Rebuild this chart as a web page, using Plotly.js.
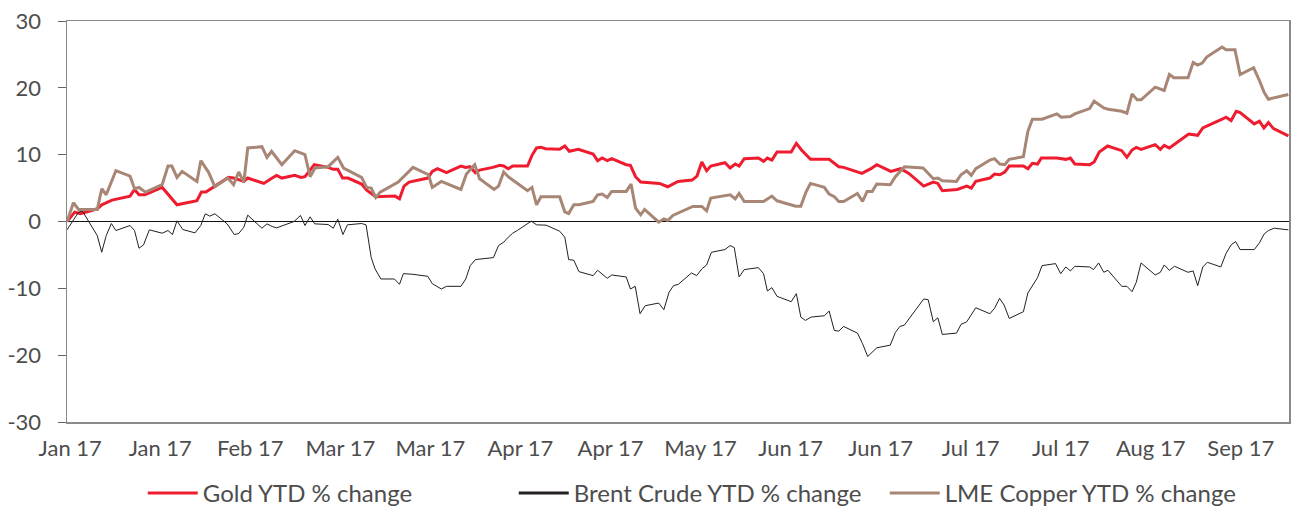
<!DOCTYPE html>
<html>
<head>
<meta charset="utf-8">
<script src="https://cdn.plot.ly/plotly-3.0.1.min.js"></script>
<style>
html,body{margin:0;padding:0;background:#fff;}
#chart{width:1292px;height:506px;}
</style>
</head>
<body>
<div id="chart"></div>
<script>
// x = trading-day index since start of 2017, y = YTD % change
const goldDay = [0,1.2,2.1,4.7,5.4,7.0,9.8,10.5,11.2,12.1,14.8,17.1,20.2,20.9,21.6,22.8,25.1,25.9,27.5,28.1,30.6,31.9,32.6,33.4,35.4,36.4,37.0,38.45,40.6,41.4,42.1,42.85,43.7,45.8,46.6,48.0,51.0,51.7,52.4,53.2,56.1,56.8,57.6,59.0,61.25,62.0,62.65,63.5,64.15,66.2,67.3,67.9,68.6,69.3,71.6,72.3,73.0,73.7,74.4,76.6,77.4,78.1,79.5,81.8,82.5,83.2,84.0,84.7,86.95,87.6,88.4,89.2,91.4,92.1,93.4,94.2,95.0,97.2,97.95,98.7,99.45,100.1,102.3,103.1,103.9,104.5,105.3,107.5,108.3,108.9,109.6,110.4,112.6,113.4,114.2,115.6,118.5,120.0,120.75,123.6,125.0,125.9,128.1,129.6,130.9,133.2,134.7,135.4,136.1,138.4,139.9,140.6,141.3,143.5,144.2,145.05,145.8,146.5,148.7,149.4,150.1,150.9,151.5,153.9,155.3,156.0,156.7,159.0,159.7,160.5,161.8,164.0,164.8,165.6,166.25,167.0,169.2,170.0,170.6,171.4,174.4,175.8,176.6,179.6,180.2,181.0,181.8,182.4,184.6,185.4,186.1,186.8,187.6,189.9];
const goldPct = [0,1.4,1.15,1.9,2.5,3.2,3.8,4.8,4.0,4.0,5.1,2.5,3.1,4.4,4.4,5.2,6.6,6.5,6.0,6.5,5.7,6.5,6.9,6.5,6.9,6.6,6.7,8.5,8.1,7.8,7.8,6.5,6.5,5.6,4.7,3.7,3.8,3.4,5.3,5.9,6.5,7.5,7.9,7.3,8.3,8.1,8.2,7.3,7.7,8.1,8.4,8.3,7.9,8.3,8.3,9.9,11.0,11.1,10.9,10.8,11.3,10.5,10.8,10.1,9.1,9.5,9.1,9.4,8.5,8.4,6.7,5.9,5.8,5.7,5.2,5.6,6.0,6.2,6.8,8.9,7.6,8.3,8.8,8.0,8.6,8.3,9.4,9.5,9.0,9.5,9.2,10.4,10.4,11.7,10.7,9.3,9.3,8.2,8.1,7.2,7.9,8.5,7.5,7.9,7.2,5.3,5.9,5.7,4.6,4.8,5.3,5.0,6.0,6.5,7.1,7.0,7.4,8.3,8.3,7.9,8.7,8.6,9.5,9.5,9.3,9.5,8.6,8.5,8.9,10.4,11.3,10.6,9.6,10.7,11.1,10.8,11.5,10.8,11.4,11.0,13.1,12.9,14.0,15.3,15.6,15.1,16.5,16.3,14.6,15.0,14.0,14.8,13.9,12.8];

const brentDay = [0,1.8,2.4,4.7,5.4,6.1,6.9,7.6,9.8,10.5,11.2,11.9,12.8,14.8,15.7,16.4,17.1,18.0,19.9,20.8,21.5,22.2,23.0,24.9,26.0,26.7,27.5,28.1,30.3,31.1,31.9,32.6,35.3,36.3,37.0,37.8,38.5,40.6,41.4,42.1,42.9,43.6,45.8,46.5,47.3,47.9,48.8,50.9,51.7,52.3,53.8,56.1,56.8,58.2,59.0,61.25,62.0,62.7,63.5,66.3,67.1,67.9,68.6,69.3,70.0,72.2,73.0,74.5,76.6,77.4,78.0,78.8,79.6,81.8,82.5,84.0,84.7,86.95,87.6,88.35,89.1,89.9,92.0,92.8,93.6,94.3,95.05,97.1,97.9,98.7,99.45,100.2,102.3,103.1,103.75,104.5,105.3,107.5,108.3,108.9,109.6,110.4,112.6,113.4,114.1,114.8,115.7,117.75,118.5,119.3,120.0,120.75,122.9,123.7,124.5,125.2,125.9,128.0,128.8,129.5,130.2,133.2,133.9,134.7,135.4,136.1,138.3,139.0,139.9,141.3,143.5,144.2,145.0,145.7,146.5,148.7,149.4,150.9,151.6,153.7,154.5,155.3,156.0,156.7,159.0,159.6,160.4,161.2,161.85,164.0,164.8,165.6,166.25,167.0,169.2,170.0,170.6,171.4,172.2,174.3,175.1,175.8,176.6,177.3,179.4,180.2,181.0,181.7,182.4,184.6,185.4,186.15,186.8,187.7,189.9];
const brentPct = [-1.25,1.4,1.55,-2.1,-4.6,-2.1,-0.3,-1.35,-0.6,-1.35,-4.0,-3.5,-1.25,-1.75,-1.35,-1.95,0.1,-1.2,-1.7,-0.6,1.15,0.8,1.15,-0.35,-1.95,-1.8,-0.85,0.95,-1.0,-0.35,-0.75,-0.95,0.0,0.9,-0.6,0.7,-0.35,-0.45,-1.0,0.35,-1.95,-0.5,-0.3,-0.5,-5.4,-7.1,-8.6,-8.6,-9.4,-7.8,-7.9,-8.2,-9.3,-10.1,-9.7,-9.7,-8.6,-6.6,-5.7,-5.4,-3.6,-3.1,-2.35,-1.75,-1.35,0.05,-0.5,-0.55,-1.45,-2.35,-5.7,-5.8,-7.5,-8.1,-7.3,-8.5,-8.0,-8.3,-10.1,-9.7,-13.8,-12.6,-12.2,-13.2,-10.6,-9.6,-9.4,-7.7,-8.1,-7.1,-6.5,-4.6,-4.2,-3.6,-3.9,-8.3,-7.2,-6.9,-7.8,-10.4,-9.9,-11.2,-12.0,-10.8,-14.3,-14.8,-14.3,-14.1,-13.4,-16.3,-16.4,-15.7,-16.7,-18.3,-20.2,-19.6,-18.9,-18.5,-16.6,-15.7,-15.5,-11.6,-11.7,-15.0,-14.4,-16.9,-16.7,-15.4,-15.0,-12.9,-13.8,-13.0,-11.5,-12.5,-14.5,-13.5,-10.7,-8.4,-6.6,-6.3,-7.8,-6.8,-7.4,-6.7,-6.8,-7.2,-6.2,-7.6,-7.3,-9.7,-9.7,-10.5,-9.1,-6.2,-8.0,-7.6,-6.5,-7.3,-6.7,-7.6,-7.4,-9.6,-6.8,-6.1,-6.8,-4.8,-3.5,-3.0,-4.2,-4.2,-3.2,-1.85,-1.35,-1.0,-1.25];

const copperDay = [0,1.0,1.8,4.7,5.4,6.1,7.6,9.8,10.5,11.2,12.2,14.8,15.7,16.3,17.1,17.9,20.2,20.8,22.0,23.0,25.0,25.9,26.7,27.5,28.1,30.3,31.1,31.8,33.4,35.4,37.0,37.8,38.55,40.6,42.1,43.0,45.8,46.6,47.3,48.0,48.7,51.5,53.8,56.2,56.8,58.2,61.25,62.1,63.4,64.15,66.4,67.1,67.9,68.6,71.6,72.3,73.0,73.7,76.6,77.4,78.0,78.8,79.6,81.8,82.5,83.2,84.0,84.7,86.95,87.7,88.4,89.2,89.8,92.0,92.8,93.4,94.2,95.0,97.3,98.7,99.45,100.1,103.1,103.9,104.5,105.3,108.3,109.6,110.4,113.3,114.1,114.9,115.6,117.75,118.5,119.3,120.0,120.75,122.9,123.7,124.4,125.2,125.9,128.0,128.8,130.2,133.1,134.7,135.4,136.1,138.3,139.0,139.9,140.6,141.3,143.5,144.2,145.05,145.8,146.5,148.7,149.4,150.1,151.6,153.9,154.6,156.0,156.7,159.0,159.7,161.2,161.9,164.0,164.8,165.6,166.4,167.0,169.2,170.6,171.4,172.1,174.3,175.1,175.8,176.5,177.2,179.6,180.2,181.6,182.4,184.5,185.4,186.15,186.8,189.9];
const copperPct = [0,2.8,1.8,1.8,4.9,4.0,7.6,6.8,4.9,5.1,4.4,5.5,8.3,8.3,6.6,7.5,6.0,9.1,7.4,5.2,6.5,5.5,7.4,5.9,11.0,11.2,9.6,10.5,8.5,10.6,10.0,6.7,8.0,8.2,9.6,8.0,6.6,5.1,5.0,3.6,4.4,5.9,8.1,7.0,5.1,6.0,4.8,7.1,8.5,6.4,4.8,5.3,7.4,6.7,4.6,5.1,2.5,3.7,3.7,1.45,1.2,2.5,2.5,3.0,4.0,4.1,3.6,4.5,4.5,5.6,2.0,1.0,1.8,-0.1,0.4,0.15,0.9,1.25,2.25,2.25,1.6,3.5,4.0,3.4,4.2,3.0,3.0,3.8,3.1,2.3,2.3,4.4,5.7,5.1,4.1,3.7,3.0,3.0,4.2,3.0,4.5,4.5,5.6,5.5,6.7,8.2,8.0,6.4,6.5,6.1,6.0,7.0,7.6,6.9,7.9,9.2,9.4,8.6,8.5,9.3,9.7,13.5,15.3,15.3,16.1,15.6,15.7,16.1,16.9,18.0,17.0,16.8,16.5,16.2,19.1,18.2,18.2,20.1,19.6,22.0,21.5,21.5,23.8,23.4,23.7,24.6,26.1,25.7,25.7,22.0,23.0,21.1,19.3,18.3,19.0];

const tickDays = [0.5,14.5,28.5,42.5,56.5,70.5,84.5,98.5,112.5,126.5,140.5,154.5,168.5,182.5];
const tickLabels = ['Jan 17','Jan 17','Feb 17','Mar 17','Mar 17','Apr 17','Apr 17','May 17','Jun 17','Jun 17','Jul 17','Jul 17','Aug 17','Sep 17'];
const yTickVals = [-30,-20,-10,0,10,20,30];
const yTickLabels = ['-30','-20','-10','0','10','20','30'];
const seriesNames = ['Gold YTD % change','Brent Crude YTD % change','LME Copper YTD % change'];

const FONT = 'Lato, "Open Sans", sans-serif';
const TXT = '#4d4d4d';
const GOLD = '#ee1c2e', BRENT = '#231f20', COPPER = '#a88676';

const traces = [
  {x: goldDay, y: goldPct, name: seriesNames[0], type: 'scatter', mode: 'lines',
   legendrank: 1, line: {color: GOLD, width: 3}},
  {x: brentDay, y: brentPct, name: seriesNames[1], type: 'scatter', mode: 'lines',
   showlegend: false, line: {color: BRENT, width: 1}},
  {x: copperDay, y: copperPct, name: seriesNames[2], type: 'scatter', mode: 'lines',
   legendrank: 3, line: {color: COPPER, width: 3}},
  // legend entry for Brent (thicker key line as in the original legend)
  {x: [null], y: [null], name: seriesNames[1], type: 'scatter', mode: 'lines',
   legendrank: 2, line: {color: BRENT, width: 3}}
];

const layout = {
  width: 1292, height: 506,
  margin: {l: 67, r: 3, t: 21, b: 84},
  paper_bgcolor: '#fff', plot_bgcolor: '#fff',
  font: {family: FONT, color: TXT, size: 22},
  showlegend: true,
  legend: {orientation: 'h', x: 0.062, xanchor: 'left', yref: 'container', y: 0.025, yanchor: 'middle',
           font: {family: FONT, size: 24, color: TXT}, itemwidth: 50, entrywidth: 306,
           traceorder: 'normal', bgcolor: 'rgba(0,0,0,0)'},
  xaxis: {range: [0, 190], tickmode: 'array', tickvals: tickDays, ticktext: tickLabels,
          showgrid: false, zeroline: false, ticks: '', showline: true, mirror: true,
          linecolor: '#8a8a8a', linewidth: 1.5, ticklabelstandoff: 6,
          tickfont: {family: FONT, size: 22, color: TXT}},
  yaxis: {range: [-30, 30], tickmode: 'array', tickvals: yTickVals, ticktext: yTickLabels,
          showgrid: false, zeroline: true, zerolinecolor: '#111', zerolinewidth: 1.5,
          ticks: 'outside', ticklen: 8, tickcolor: '#666', tickwidth: 1,
          showline: true, mirror: true, linecolor: '#8a8a8a', linewidth: 1.5,
          ticklabelstandoff: 12, tickfont: {family: FONT, size: 22, color: TXT}}
};

Plotly.newPlot('chart', traces, layout, {displayModeBar: false, staticPlot: true});
</script>
</body>
</html>
